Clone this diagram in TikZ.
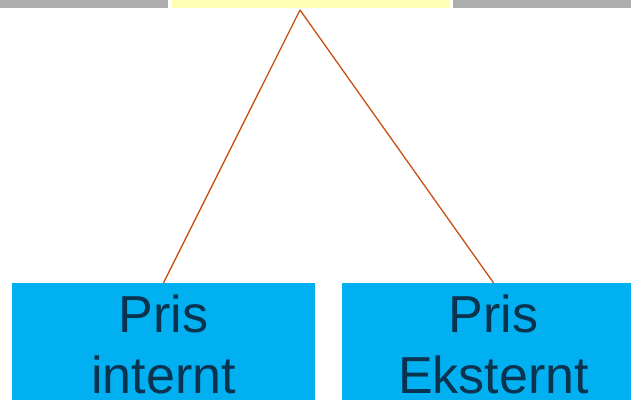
\documentclass[tikz,border=0pt]{standalone}
\usepackage{fontspec}
\setmainfont{Liberation Sans}
\definecolor{boxblue}{HTML}{00B0F0}
\definecolor{txtblue}{HTML}{0A3350}
\definecolor{linkorange}{HTML}{C8500F}
\definecolor{bargray}{HTML}{ADADAD}
\definecolor{baryellow}{HTML}{FFFFB3}
\tikzset{
  pbox/.style={fill=boxblue, draw=none, text=txtblue, align=center, inner sep=0pt,
    minimum width=303pt, minimum height=122pt,
    font=\fontsize{52}{61}\selectfont},
  bar/.style={draw=none, inner sep=0pt, minimum height=8pt, anchor=north west},
  link/.style={draw=linkorange, line width=1.3pt}
}
\begin{document}
\begin{tikzpicture}[x=1pt,y=-1pt]
\useasboundingbox (0,0) rectangle (631,399);
\clip (0,0) rectangle (631,399);
\fill[white] (0,0) rectangle (631,399);
\node[bar, fill=bargray, minimum width=168pt] (g1) at (0,0) {};
\node[bar, fill=baryellow, minimum width=278pt] (yb) at (172,0) {};
\node[bar, fill=bargray, minimum width=180pt] (g2) at (453,0) {};
\coordinate (apex) at (300,10);
\node[pbox] (left) at (163.5,344) {Pris\\internt};
\node[pbox] (right) at (493.5,344) {Pris\\Eksternt};
\draw[link] (apex) -- (left.north);
\draw[link] (apex) -- (right.north);
\end{tikzpicture}
\end{document}
